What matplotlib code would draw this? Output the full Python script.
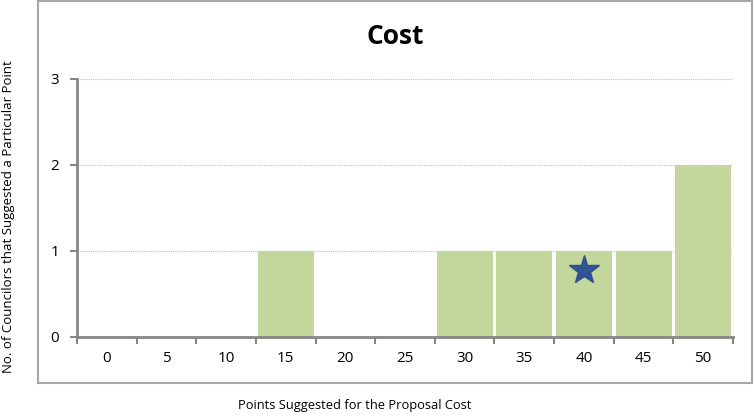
import matplotlib
matplotlib.use("Agg")
import matplotlib.pyplot as plt
from matplotlib.patches import Rectangle

categories = ["0", "5", "10", "15", "20", "25", "30", "35", "40", "45", "50"]
counts = [0, 0, 0, 1, 0, 0, 1, 1, 1, 1, 2]
star_category = "40"
star_value = 0.78

plt.rcParams['font.family'] = ['Open Sans', 'DejaVu Sans']

fig = plt.figure(figsize=(7.53, 4.18), dpi=100)
fig.patch.set_facecolor("white")

# outer chart border
fig.add_artist(Rectangle((38/753, 1 - 383/418), (752-38)/753, 383/418 - 0.002,
                         transform=fig.transFigure, fill=False,
                         edgecolor="#A6A6A6", linewidth=1.5))

ax = fig.add_axes([77/753, 1 - 337/418, (733-77)/753, (337-79)/418])
x = list(range(len(categories)))
ax.bar(x, counts, width=0.94, color="#C3D69B", edgecolor="none", zorder=2)
ax.plot([categories.index(star_category)], [star_value], marker="*",
        markersize=22, color="#2F5597", markeredgecolor="#2F4F8F",
        linestyle="none", zorder=3)

ax.set_xlim(-0.5, len(categories) - 0.5)
ax.set_ylim(0, 3)
ax.set_yticks([0, 1, 2, 3])
ax.set_xticks(x)
ax.set_xticklabels(categories)
ax.set_xticks([i - 0.5 for i in range(len(categories) + 1)], minor=True)
ax.tick_params(axis="x", which="major", length=0, pad=10, labelsize=11)
ax.tick_params(axis="x", which="minor", length=5, width=1.5, color="#868686", direction="out")
ax.tick_params(axis="y", length=5, width=1.5, color="#868686", labelsize=11, pad=8)

for s in ["top", "right"]:
    ax.spines[s].set_visible(False)
for s in ["left", "bottom"]:
    ax.spines[s].set_color("#868686")
    ax.spines[s].set_linewidth(2)

ax.yaxis.grid(True, linestyle=(0, (1, 1)), color="#BFBFBF", linewidth=0.8, zorder=0)
ax.set_axisbelow(True)

fig.text(395/753, 1 - 37/418, "Cost", ha="center", va="center",
         fontsize=19, fontweight="bold")
fig.text(9/753, 1 - 217/418, "No. of Councilors that Suggested a Particular Point",
         rotation=90, ha="center", va="center", fontsize=9.5)
fig.text(355/753, 1 - 405/418, "Points Suggested for the Proposal Cost",
         ha="center", va="center", fontsize=9.3)

fig.savefig("out.png", dpi=100)
